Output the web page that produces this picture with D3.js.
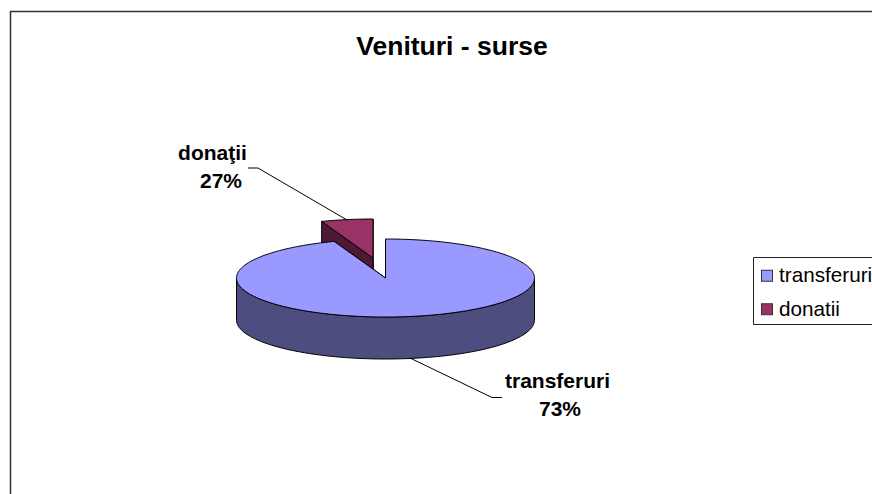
<!DOCTYPE html>
<html>
<head>
<meta charset="utf-8">
<script src="https://cdn.jsdelivr.net/npm/d3@7"></script>
<style>
  html, body { margin: 0; padding: 0; background: #fff; }
  svg { display: block; }
  text { font-family: "Liberation Sans", Arial, sans-serif; fill: #000; }
</style>
</head>
<body>
<div id="chart"></div>
<script>
// Data. The drawn wedge is much thinner than its label says
const categories = ["transferuri", "donatii"];
const sliceLabels = ["transferuri", "donaţii"];
const percentLabels = ["73%", "27%"];
const drawnShares = [94.4, 5.6];

const fullW = 872, fullH = 494;
const cx = 385.5, cy = 278, rx = 149, ry = 39, depth = 42;
const explode = [-12.5, -20];

const colours = ["#9999ff", "#993366"];
const sideColours = ["#4d4d80", "#4d1933"];

const svg = d3.select("#chart")
  .append("svg")
  .attr("width", fullW)
  .attr("height", fullH);

// chart frame runs off the right and bottom of the image
svg.append("path")
  .attr("d", "M10.5,494V11.5H872")
  .attr("fill", "none")
  .attr("stroke", "#333")
  .attr("stroke-width", 1.5);

svg.append("text")
  .attr("x", 452)
  .attr("y", 55)
  .attr("text-anchor", "middle")
  .style("font-size", "26.5px")
  .style("font-weight", "700")
  .text("Venituri - surse");

const pie = d3.pie().sort(null)(drawnShares);
const line = d3.line();

// 3D tilt: angle is clockwise from 12 o'clock
function rim(a, ox, oy) {
  return [cx + ox + rx * Math.sin(a), cy + oy - ry * Math.cos(a)];
}

function arcPoints(a0, a1, ox, oy, drop) {
  const n = Math.max(2, Math.ceil(Math.abs(a1 - a0) / 0.02));
  return d3.range(n + 1).map(i => {
    const p = rim(a0 + (a1 - a0) * i / n, ox, oy);
    return [p[0], p[1] + drop];
  });
}

function drawSlice(d, i, ox, oy) {
  const g = svg.append("g")
    .attr("stroke", "#000")
    .attr("stroke-width", 1)
    .attr("stroke-linejoin", "round");

  const tip = [cx + ox, cy + oy];

  // cut walls on both sides of the wedge
  [d.endAngle, d.startAngle].forEach(a => {
    const p = rim(a, ox, oy);
    g.append("path")
      .attr("fill", sideColours[i])
      .attr("d", line([tip, p, [p[0], p[1] + depth], [tip[0], tip[1] + depth]]) + "Z");
  });

  // outer wall, only the front half of the rim shows
  const a0 = Math.max(d.startAngle, Math.PI / 2);
  const a1 = Math.min(d.endAngle, 3 * Math.PI / 2);
  if (a1 > a0) {
    const top = arcPoints(a0, a1, ox, oy, 0);
    const bottom = arcPoints(a1, a0, ox, oy, depth);
    g.append("path")
      .attr("fill", sideColours[i])
      .attr("d", line(top.concat(bottom)) + "Z");
  }

  g.append("path")
    .attr("fill", colours[i])
    .attr("d", line([tip].concat(arcPoints(d.startAngle, d.endAngle, ox, oy, 0))) + "Z");
}

// wedge first, the big slice covers its lower walls
drawSlice(pie[1], 1, explode[0], explode[1]);
drawSlice(pie[0], 0, 0, 0);

// leader lines
const leaders = [
  [[410, 358], [492, 397.5], [502, 397.5]],
  [[347, 220], [258, 168], [248, 168]]
];
svg.selectAll(".leader")
  .data(leaders)
  .join("path")
  .attr("class", "leader")
  .attr("fill", "none")
  .attr("stroke", "#000")
  .attr("stroke-width", 1)
  .attr("d", d => line(d));

// slice labels
const labelPos = [[557.5, 388], [212.5, 160]];
labelPos.forEach((p, i) => {
  const t = svg.append("text")
    .attr("text-anchor", "middle")
    .style("font-size", "21px")
    .style("font-weight", "700");
  t.append("tspan").attr("x", p[0]).attr("y", p[1]).text(sliceLabels[i]);
  t.append("tspan").attr("x", i === 1 ? p[0] + 8.5 : p[0] + 2.5).attr("y", p[1] + 28).text(percentLabels[i]);
});

// legend box is cut by the image edge as well
svg.append("path")
  .attr("d", "M872,257.5H753.5V324.5H872")
  .attr("fill", "none")
  .attr("stroke", "#222")
  .attr("stroke-width", 1);

const legendY = d3.scaleBand().domain(categories).range([259, 326]);

const legend = svg.selectAll(".legend-item")
  .data(categories)
  .join("g")
  .attr("class", "legend-item")
  .attr("transform", d => `translate(0,${legendY(d) + legendY.bandwidth() / 2})`);

legend.append("rect")
  .attr("x", 761.5)
  .attr("y", -5.5)
  .attr("width", 11)
  .attr("height", 11)
  .attr("fill", (d, i) => colours[i])
  .attr("stroke", "#333");

legend.append("text")
  .attr("x", 779)
  .attr("y", 6.5)
  .style("font-size", "20.7px")
  .text(d => d);
</script>
</body>
</html>
